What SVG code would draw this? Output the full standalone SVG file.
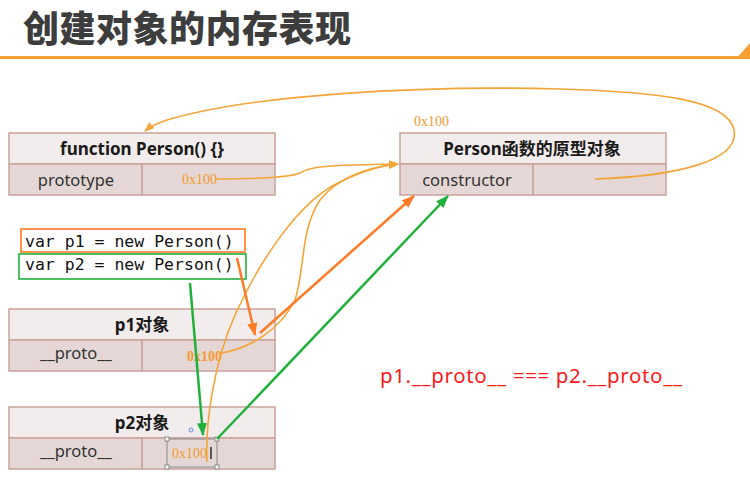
<svg xmlns="http://www.w3.org/2000/svg" width="750" height="488" viewBox="0 0 750 488">
<style>
.hd{fill:#f3ecec;stroke:#c9a39b;stroke-width:1.5}
.rw{fill:#e4d7d5;stroke:#c9a39b;stroke-width:1.5}
.ht{font-family:"Noto Sans","Noto Sans CJK SC",sans-serif;font-weight:bold;font-size:17px;fill:#1a1a1a;text-anchor:middle}
.ct{font-family:"Noto Sans","Noto Sans CJK SC",sans-serif;font-size:16.5px;fill:#333;text-anchor:middle}
.hx{font-family:"Liberation Serif",serif;font-size:14px;fill:#f59a2f}
.code{font-family:"DejaVu Sans Mono",monospace;font-size:16.5px;fill:#111}
.lo{fill:none;stroke:#f4a539;stroke-width:1.6}
.dk{fill:none;stroke:#ff7a25;stroke-width:2.5}
.gr{fill:none;stroke:#22b03c;stroke-width:2.5}
</style>
<defs>
<marker id="aLo" markerUnits="userSpaceOnUse" markerWidth="10" markerHeight="8" refX="9" refY="4" orient="auto"><path d="M0,0 L10,4 L0,8 z" fill="#f4a539"/></marker>
<marker id="aDk" markerUnits="userSpaceOnUse" markerWidth="13" markerHeight="10" refX="12" refY="5" orient="auto"><path d="M0,0 L13,5 L0,10 z" fill="#ff7a25"/></marker>
<marker id="aGr" markerUnits="userSpaceOnUse" markerWidth="13" markerHeight="10" refX="12" refY="5" orient="auto"><path d="M0,0 L13,5 L0,10 z" fill="#22b03c"/></marker>
</defs>
<rect width="750" height="488" fill="#ffffff"/>
<g id="title">
<text x="23" y="42" font-family="'Noto Sans CJK SC',sans-serif" font-weight="900" font-size="36" letter-spacing="0.5" fill="#3d3d3d">创建对象的内存表现</text>
<rect x="0" y="56" width="742" height="3" fill="#f5a031"/>
<polygon points="736,59 750,43 750,59" fill="#f5a031"/>
</g>
<g id="personFn">
<rect class="hd" x="9" y="133" width="266" height="31"/>
<rect class="rw" x="9" y="164" width="133" height="31"/>
<rect class="rw" x="142" y="164" width="133" height="31"/>
<text class="ht" x="142" y="155">function Person() {}</text>
<text class="ct" x="76" y="186">prototype</text>
<text class="hx" x="182" y="184">0x100</text>
</g>
<g id="personProto">
<text class="hx" x="414" y="126">0x100</text>
<rect class="hd" x="400" y="133" width="266" height="31"/>
<rect class="rw" x="400" y="164" width="133" height="31"/>
<rect class="rw" x="533" y="164" width="133" height="31"/>
<text class="ht" x="532" y="155">Person函数的原型对象</text>
<text class="ct" x="467" y="186">constructor</text>
</g>
<g id="code">
<rect x="21" y="229" width="224" height="23" fill="none" stroke="#ff7a25" stroke-width="1.6"/>
<rect x="19" y="254" width="227" height="25" fill="none" stroke="#22b03c" stroke-width="1.6"/>
<text class="code" x="25" y="247">var p1 = new Person()</text>
<text class="code" x="25" y="270">var p2 = new Person()</text>
</g>
<g id="p1">
<rect class="hd" x="9" y="309" width="266" height="31"/>
<rect class="rw" x="9" y="340" width="133" height="31"/>
<rect class="rw" x="142" y="340" width="133" height="31"/>
<text class="ht" x="142" y="331">p1对象</text>
<text class="ct" x="76" y="359">__proto__</text>
<text class="hx" x="187" y="361" font-weight="bold" fill="#ff8a2a">0x100</text>
</g>
<g id="p2">
<rect class="hd" x="9" y="407" width="266" height="31"/>
<rect class="rw" x="9" y="438" width="133" height="31"/>
<rect class="rw" x="142" y="438" width="133" height="31"/>
<text class="ht" x="142" y="429">p2对象</text>
<text class="ct" x="76" y="457">__proto__</text>
<rect x="167" y="439" width="50" height="28" fill="none" stroke="#8a8a8a" stroke-width="1"/>
<g fill="#fff" stroke="#777" stroke-width="0.8">
<rect x="165" y="437" width="4" height="4"/><rect x="215" y="437" width="4" height="4"/>
<rect x="165" y="465" width="4" height="4"/><rect x="215" y="465" width="4" height="4"/>
</g>
<text class="hx" x="172" y="458">0x100</text>
<line x1="211" y1="447" x2="211" y2="459" stroke="#222" stroke-width="1.4"/>
<circle cx="191" cy="430" r="2" fill="none" stroke="#5b8def" stroke-width="1"/>
</g>
<g id="note">
<text x="380" y="383" font-family="'Noto Sans','Noto Sans CJK SC',sans-serif" font-size="20.5" fill="#ff1a1a" textLength="302" lengthAdjust="spacing">p1.__proto__ === p2.__proto__</text>
</g>
<g id="connectors">
<path class="lo" d="M595 179 C680 176 740 160 734 130 C728 100 660 92 560 89 C420 85 250 95 167 120 Q152 125 145 131" marker-end="url(#aLo)"/>
<path class="lo" d="M215 179 C260 179 290 177 300 173 C310 166 330 165 398 164" marker-end="url(#aLo)"/>
<path class="lo" d="M222 353 C250 348 280 330 295 300 C305 270 300 230 320 200 C340 175 370 167 398 164" marker-end="url(#aLo)"/>
<path class="lo" d="M207 462 C205 420 215 360 235 315 C260 260 300 200 340 182 C365 170 385 165 398 164" marker-end="url(#aLo)"/>
<path class="dk" d="M237 258 L255 335" marker-end="url(#aDk)"/>
<path class="dk" d="M260 333 L414 196" marker-end="url(#aDk)"/>
<path class="gr" d="M190 283 L203 435" marker-end="url(#aGr)"/>
<path class="gr" d="M217 439 L448 196" marker-end="url(#aGr)"/>
</g>
</svg>
